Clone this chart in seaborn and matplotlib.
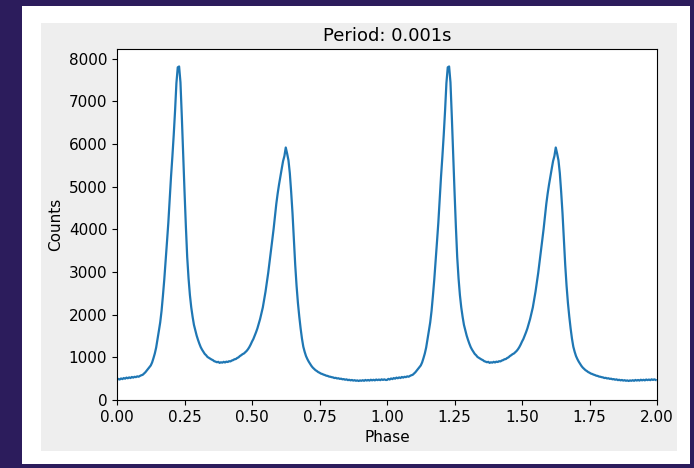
import numpy as np
import matplotlib
matplotlib.use("Agg")
import matplotlib.pyplot as plt
from matplotlib.patches import Rectangle
import seaborn as sns

# Pulse profile, one cycle (bins of 0.005 in phase)
counts_cycle = [
    470, 495, 480, 505, 490, 515, 500, 525, 510, 530,
    515, 540, 525, 545, 535, 555, 545, 565, 580, 590,
    620, 650, 690, 730, 770, 810, 880, 980, 1090, 1230,
    1420, 1620, 1820, 2090, 2440, 2820, 3250, 3700, 4150, 4700,
    5230, 5700, 6210, 6780, 7430, 7800, 7820, 7450, 6650, 5750,
    4900, 4080, 3350, 2850, 2460, 2170, 1950, 1760, 1630, 1510,
    1410, 1320, 1240, 1180, 1130, 1080, 1050, 1010, 990, 970,
    950, 935, 910, 900, 885, 895, 870, 885, 875, 895,
    880, 900, 890, 910, 905, 925, 935, 955, 960, 985,
    1000, 1030, 1050, 1075, 1090, 1120, 1150, 1190, 1240, 1300,
    1370, 1430, 1510, 1590, 1680, 1790, 1900, 2030, 2170, 2350,
    2540, 2760, 2980, 3230, 3490, 3750, 4010, 4310, 4600, 4840,
    5050, 5240, 5420, 5600, 5720, 5920, 5780, 5620, 5320, 4880,
    4380, 3750, 3170, 2680, 2280, 1960, 1680, 1440, 1250, 1130,
    1030, 960, 900, 850, 800, 760, 730, 700, 680, 655,
    640, 620, 610, 595, 585, 570, 565, 550, 545, 535,
    530, 515, 520, 505, 510, 495, 500, 485, 490, 475,
    485, 465, 475, 460, 470, 455, 465, 450, 460, 445,
    460, 450, 465, 450, 470, 455, 470, 455, 475, 460,
    475, 460, 480, 465, 480, 465, 485, 470, 485, 470,
]
n_cycles = 2
title = "Period: 0.001s"
xticks = [0.00, 0.25, 0.50, 0.75, 1.00, 1.25, 1.50, 1.75, 2.00]

counts = counts_cycle * n_cycles
phase = np.linspace(0, n_cycles, len(counts), endpoint=False)

fig = plt.figure(figsize=(6.94, 4.68), dpi=100)
fig.patch.set_facecolor("#2c1c5c")

# white card and the grey figure panel of the screenshot
fig.patches.append(Rectangle((0.0317, 0.0085), 0.9625, 0.9786, transform=fig.transFigure,
                             facecolor="white", edgecolor="none", zorder=-2))
fig.patches.append(Rectangle((0.0591, 0.0363), 0.9164, 0.9145, transform=fig.transFigure,
                             facecolor="#eeeeee", edgecolor="none", zorder=-1))

ax = fig.add_axes([0.1686, 0.1453, 0.7781, 0.75])
ax.set_zorder(1)
sns.lineplot(x=phase, y=counts, ax=ax, color="#1f77b4", linewidth=1.6)

ax.set_xlim(0, 2)
ax.set_ylim(0, 8230)
ax.set_xticks(xticks)
ax.set_xticklabels([f"{t:.2f}" for t in xticks])
ax.tick_params(labelsize=11)
ax.set_xlabel("Phase", fontsize=11)
ax.set_ylabel("Counts", fontsize=11)
ax.set_title(title, fontsize=13)

fig.savefig("out.png", dpi=100, facecolor=fig.get_facecolor())
